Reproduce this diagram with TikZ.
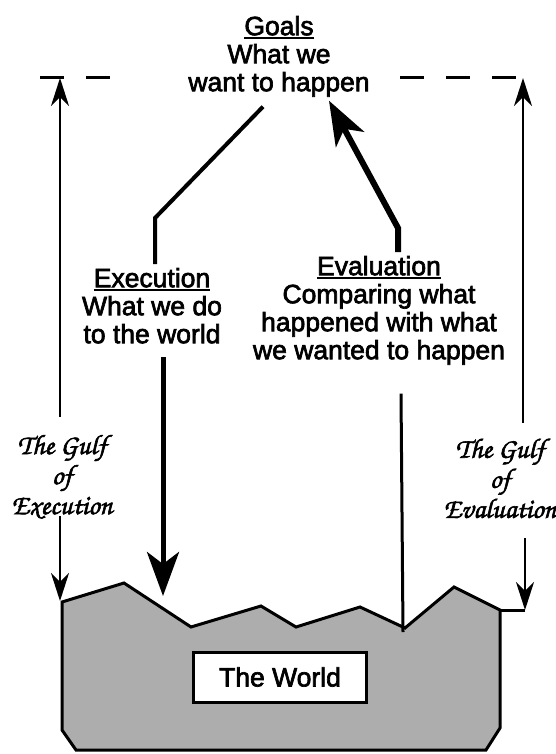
\documentclass[tikz,border=0pt]{standalone}
\usepackage[T1]{fontenc}
\usepackage{fontspec}
\setmainfont{Liberation Sans}[FakeBold=2.5]
\usetikzlibrary{arrows.meta, positioning}
\newcommand{\gulffont}{\fontencoding{T1}\fontfamily{pzc}\fontseries{mb}\fontshape{it}\selectfont}
\newcommand{\heavy}[1]{\special{pdf:literal direct 2 Tr 0.6 w}#1\special{pdf:literal direct 0 Tr}}
\newcommand{\ulabel}[1]{\setbox0\hbox{#1}\rlap{\rule[-3.5pt]{\wd0}{2pt}}\box0}

\begin{document}
\begin{tikzpicture}[
    x=1pt, y=-1pt,
    font=\fontsize{26.5}{28}\selectfont,
    txt/.style={align=center, inner sep=0pt, outer sep=4pt},
    gulf/.style={align=center, inner sep=0pt, font=\gulffont\fontsize{28}{30}\selectfont},
    world/.style={draw, line width=3pt, line join=miter, fill=black!32},
    wbox/.style={draw, line width=3pt, fill=white, minimum width=173pt, minimum height=50pt},
    dashline/.style={line width=3pt, dash pattern=on 24pt off 22pt},
    gulfarr/.style={-{Stealth[length=28pt, width=18pt, inset=9pt]}, line width=2.6pt},
    bigarr/.style={-{Stealth[length=44pt, width=32pt, inset=12pt]}, line width=5pt},
    goalline/.style={line width=4pt, line join=miter}
]
\useasboundingbox (0,0) rectangle (555,754);

% the world
\draw[world] (62,602) -- (124,583) -- (191,627) -- (261,606) -- (296,627)
    -- (360,607) -- (405,628) -- (454,587) -- (500,610) -- (500,728)
    -- (486,750) -- (76,750) -- (62,730) -- cycle;
\node[wbox] (world) at (280,677) {The World};

% text
\node[txt, anchor=north] (goals) at (279,12) {\ulabel{Goals}\\What we\\want to happen};
\node[txt, anchor=north] (exec)  at (152,264) {\ulabel{Execution}\\What we do\\to the world};
\node[txt, anchor=north] (eval)  at (379,252) {\ulabel{Evaluation}\\Comparing what\\happened with what\\we wanted to happen};
\node[gulf] (gulfE) at (62,477) {\heavy{The Gulf}\\\heavy{of}\\\heavy{Execution}};
\node[gulf] (gulfV) at (500,478) {\heavy{The Gulf}\\\heavy{of}\\\heavy{Evaluation}};

\coordinate (dashL) at (60,78);
\coordinate (dashR) at (523,78);
\coordinate (surfL) at (60,601);
\coordinate (surfR) at (525,610);
\coordinate (surfE) at (163,596);
\coordinate (notch) at (403,632);
\coordinate (bendE) at (155,218);
\coordinate (bendV) at (398,228);

% dashed goal level
\draw[dashline] ([xshift=-20pt]dashL) -- ++(70,0);
\draw[dashline] ([xshift=-123pt]dashR) -- (dashR);

% gulfs
\draw[gulfarr] ([yshift=17pt]gulfE.north -| dashL) -- (dashL);
\draw[gulfarr] ([yshift=4pt]gulfE.south -| surfL) -- (surfL);
\draw[gulfarr] ([yshift=15pt]gulfV.north -| dashR) -- (dashR);
\draw[gulfarr] ([yshift=-20pt]gulfV.south -| surfR) -- (surfR);
\draw[line width=3pt] (surfR) -- (500,610);

% Goals -> Execution -> World
\draw[goalline] ([xshift=-16pt, yshift=-6pt]goals.south) -- (bendE) -- (exec.north -| bendE);
\draw[bigarr] ([xshift=11pt, yshift=-10pt]exec.south) -- (surfE);

% World -> Evaluation -> Goals
\draw[line width=3pt] ([xshift=22pt, yshift=-25pt]eval.south) -- (notch);
\draw[bigarr, line width=6pt] (eval.north -| bendV) -- (bendV) -- ([xshift=50pt, yshift=0pt]goals.south);

\end{tikzpicture}
\end{document}
